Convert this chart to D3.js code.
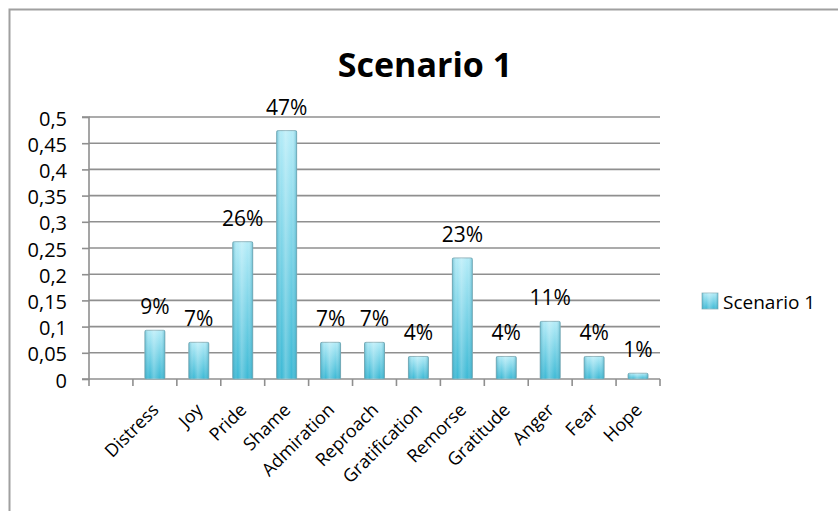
<!DOCTYPE html>
<html>
<head>
<meta charset="utf-8">
<script src="https://cdn.jsdelivr.net/npm/d3@7"></script>
<style>
  html, body { margin: 0; padding: 0; background: #fff; }
  svg { display: block; }
  text { font-family: "Open Sans", Lato, sans-serif; fill: #000; }
</style>
</head>
<body>
<svg id="chart" width="838" height="511"></svg>
<script>
// ---- data ----
const title = "Scenario 1";
const seriesName = "Scenario 1";
const categories = ["", "Distress", "Joy", "Pride", "Shame", "Admiration", "Reproach",
  "Gratification", "Remorse", "Gratitude", "Anger", "Fear", "Hope"];
const values = [null, 0.093, 0.07, 0.262, 0.474, 0.07, 0.07, 0.043, 0.231, 0.043, 0.11, 0.043, 0.011];
const labels = ["", "9%", "7%", "26%", "47%", "7%", "7%", "4%", "23%", "4%", "11%", "4%", "1%"];
const yTicks = [0, 0.05, 0.1, 0.15, 0.2, 0.25, 0.3, 0.35, 0.4, 0.45, 0.5];

// ---- layout ----
const svg = d3.select("#chart");
const plot = { left: 89, right: 660, top: 117, bottom: 379 };
const gridColor = "#8f8f8f";
const FONT = "'Open Sans', Lato, sans-serif";

const data = categories.map((c, i) => ({ cat: c, key: i, value: values[i], label: labels[i] }));

const x = d3.scaleBand().domain(data.map(d => d.key)).range([plot.left, plot.right]).paddingInner(0).paddingOuter(0);
const y = d3.scaleLinear().domain([0, 0.5]).range([plot.bottom, plot.top]);

// defs: gradients
const defs = svg.append("defs");
const vg = defs.append("linearGradient").attr("id", "barV").attr("x1", 0).attr("y1", 0).attr("x2", 0).attr("y2", 1);
vg.append("stop").attr("offset", "0%").attr("stop-color", "#b4ecf8");
vg.append("stop").attr("offset", "100%").attr("stop-color", "#3cb9d5");
const hg = defs.append("linearGradient").attr("id", "barH").attr("x1", 0).attr("y1", 0).attr("x2", 1).attr("y2", 0);
hg.append("stop").attr("offset", "0%").attr("stop-color", "#1f8faa").attr("stop-opacity", 0.45);
hg.append("stop").attr("offset", "25%").attr("stop-color", "#ffffff").attr("stop-opacity", 0.0);
hg.append("stop").attr("offset", "45%").attr("stop-color", "#ffffff").attr("stop-opacity", 0.25);
hg.append("stop").attr("offset", "75%").attr("stop-color", "#ffffff").attr("stop-opacity", 0.0);
hg.append("stop").attr("offset", "100%").attr("stop-color", "#1f8faa").attr("stop-opacity", 0.45);

// chart border
svg.append("rect")
  .attr("x", 9.5).attr("y", 9.5).attr("width", 838).attr("height", 520)
  .attr("fill", "none").attr("stroke", "#a0a0a0").attr("stroke-width", 2);

// title
svg.append("text").attr("x", 425).attr("y", 77).attr("text-anchor", "middle")
  .attr("font-size", 34).attr("font-weight", "bold").text(title);

// gridlines
svg.append("g").selectAll("line").data(yTicks.filter(t => t > 0)).join("line")
  .attr("x1", plot.left).attr("x2", plot.right)
  .attr("y1", d => y(d)).attr("y2", d => y(d))
  .attr("stroke", gridColor).attr("stroke-width", 1.6);

// y axis
const yAxis = d3.axisLeft(y).tickValues(yTicks).tickSize(7).tickPadding(15)
  .tickFormat(d => String(+d.toFixed(2)).replace(".", ","));
const gy = svg.append("g").attr("transform", `translate(${plot.left},0)`).call(yAxis);
gy.attr("font-family", FONT).attr("font-size", 20);
gy.select(".domain").attr("stroke", gridColor).attr("stroke-width", 1.6).attr("d", `M-7,${plot.top}H0V${plot.bottom}H-7`);
gy.selectAll(".tick line").attr("stroke", gridColor).attr("stroke-width", 1.6);
gy.selectAll(".tick text").attr("fill", "#000").attr("dy", "0.4em");

// x axis
const xTickPos = data.map(d => x(d.key)).concat([plot.right]);
svg.append("line").attr("x1", plot.left).attr("x2", plot.right)
  .attr("y1", plot.bottom).attr("y2", plot.bottom)
  .attr("stroke", gridColor).attr("stroke-width", 1.6);
svg.append("g").selectAll("line").data(xTickPos).join("line")
  .attr("x1", d => d).attr("x2", d => d)
  .attr("y1", plot.bottom).attr("y2", plot.bottom + 7)
  .attr("stroke", gridColor).attr("stroke-width", 1.6);

// bars
const barW = 20;
const bars = svg.append("g").selectAll("g").data(data.filter(d => d.value != null)).join("g");
bars.append("rect")
  .attr("x", d => x(d.key) + x.bandwidth() / 2 - barW / 2)
  .attr("y", d => y(d.value))
  .attr("width", barW)
  .attr("height", d => plot.bottom - y(d.value))
  .attr("rx", 1.5)
  .attr("fill", "url(#barV)")
  .attr("stroke", "#8fb3bb").attr("stroke-width", 1);
bars.append("rect")
  .attr("x", d => x(d.key) + x.bandwidth() / 2 - barW / 2)
  .attr("y", d => y(d.value))
  .attr("width", barW)
  .attr("height", d => plot.bottom - y(d.value))
  .attr("fill", "url(#barH)");

// value labels
svg.append("g").selectAll("text").data(data.filter(d => d.value != null)).join("text")
  .attr("x", d => x(d.key) + x.bandwidth() / 2)
  .attr("y", d => y(d.value) - 16)
  .attr("text-anchor", "middle")
  .attr("font-size", 21)
  .text(d => d.label);

// category labels
svg.append("g").selectAll("text").data(data.filter(d => d.cat !== "")).join("text")
  .attr("transform", d => `translate(${x(d.key) + x.bandwidth() / 2 + 5},${plot.bottom + 32}) rotate(-45)`)
  .attr("text-anchor", "end")
  .attr("font-size", 18)
  .text(d => d.cat);

// legend
const lg = svg.append("g").attr("transform", "translate(702,293)");
lg.append("rect").attr("width", 16).attr("height", 16).attr("fill", "url(#barV)").attr("stroke", "#8fb3bb").attr("stroke-width", 0.8);
lg.append("rect").attr("width", 16).attr("height", 16).attr("fill", "url(#barH)");
lg.append("text").attr("x", 21).attr("y", 16).attr("font-size", 19).text(seriesName);
</script>
</body>
</html>
